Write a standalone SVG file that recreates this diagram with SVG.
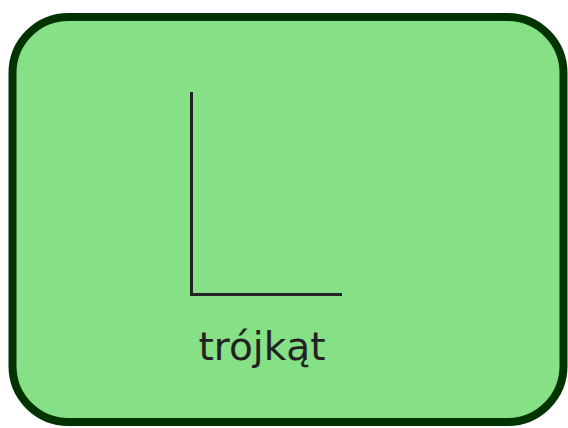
<svg xmlns="http://www.w3.org/2000/svg" width="568" height="428" viewBox="0 0 568 428">
<style>
.box{fill:#86e085;stroke:#013301;stroke-width:8}
.ln{stroke:#222;stroke-width:3;fill:none}
.lbl{font-family:"DejaVu Sans",sans-serif;font-size:39px;fill:#222;text-anchor:middle}
</style>
<g id="node-box">
<rect class="box" x="12.5" y="17" width="551" height="405" rx="56" ry="56"/>
</g>
<g id="connectors">
<path class="ln" d="M191.5 92 V294.5 H342"/>
</g>
<g id="node-label">
<text class="lbl" x="262" y="360">trójkąt</text>
</g>
</svg>
